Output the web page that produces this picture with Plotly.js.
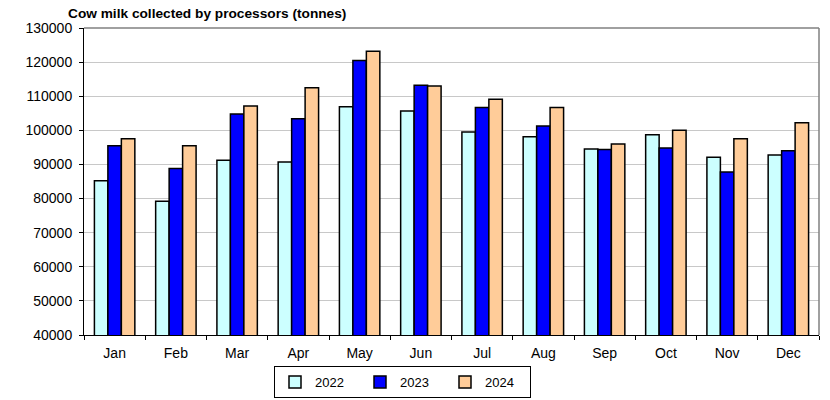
<!DOCTYPE html>
<html>
<head>
<meta charset="utf-8">
<script src="https://cdn.plot.ly/plotly-3.0.1.min.js"></script>
<style>html,body{margin:0;padding:0;background:#fff;}#chart{width:830px;height:400px;}</style>
</head>
<body>
<div id="chart"></div>
<script>
const months = ["Jan","Feb","Mar","Apr","May","Jun","Jul","Aug","Sep","Oct","Nov","Dec"];
const y2022 = [85200, 79200, 91200, 90700, 106900, 105700, 99500, 98100, 94500, 98700, 92100, 92800];
const y2023 = [95500, 88800, 104800, 103400, 120500, 113200, 106700, 101300, 94400, 94800, 87800, 94000];
const y2024 = [97500, 95500, 107100, 112500, 123200, 113000, 109100, 106700, 96000, 100000, 97500, 102200];
const seriesNames = ["2022", "2023", "2024"];
const colors = ["#CCFFFF", "#0000FF", "#FFCC99"];

const data = [y2022, y2023, y2024].map((vals, i) => ({
  type: "bar",
  name: seriesNames[i],
  x: months,
  y: vals,
  marker: {color: colors[i], line: {color: "#000000", width: 1.5}},
  hoverinfo: "skip"
}));

const layout = {
  width: 830, height: 400,
  margin: {l: 84, r: 11, t: 28, b: 65},
  paper_bgcolor: "#ffffff",
  plot_bgcolor: "#ffffff",
  font: {family: "Liberation Sans, Arial, sans-serif", size: 14, color: "#000"},
  title: {text: "<b>Cow milk collected by processors (tonnes)</b>", font: {size: 13.7, color: "#000"},
          x: 68/830, xanchor: "left", xref: "container", y: 1 - 13/400, yanchor: "middle", yref: "container"},
  barmode: "group",
  bargap: 0.34,
  bargroupgap: 0,
  xaxis: {
    showline: true, linecolor: "#000", linewidth: 1,
    ticks: "outside", tickson: "boundaries", ticklen: 4, tickcolor: "#000",
    ticklabelstandoff: 5,
    showgrid: false, tickfont: {size: 14}, fixedrange: true
  },
  yaxis: {
    range: [40000, 130000], dtick: 10000, tickformat: "d",
    showline: true, linecolor: "#000", linewidth: 1,
    ticks: "outside", ticklen: 4, tickcolor: "#000",
    ticklabelstandoff: 4,
    showgrid: true, gridcolor: "#C8C8C8", gridwidth: 1,
    zeroline: false, tickfont: {size: 14}, fixedrange: true
  },
  shapes: [
    {type: "line", xref: "paper", yref: "paper", x0: 0, x1: 1, y0: 1, y1: 1, line: {color: "#808080", width: 1.5}},
    {type: "line", xref: "paper", yref: "paper", x0: 1, x1: 1, y0: 0, y1: 1, line: {color: "#808080", width: 1.5}}
  ],
  legend: {
    orientation: "h", xref: "container", yref: "container",
    x: 274/830, xanchor: "left", y: 2/400, yanchor: "bottom",
    bordercolor: "#000", borderwidth: 1, bgcolor: "#fff",
    font: {size: 13}, entrywidth: 40, entrywidthmode: "pixels",
    itemwidth: 30, traceorder: "normal"
  },
  showlegend: true
};

Plotly.newPlot("chart", data, layout, {displayModeBar: false, staticPlot: true});
</script>
</body>
</html>
